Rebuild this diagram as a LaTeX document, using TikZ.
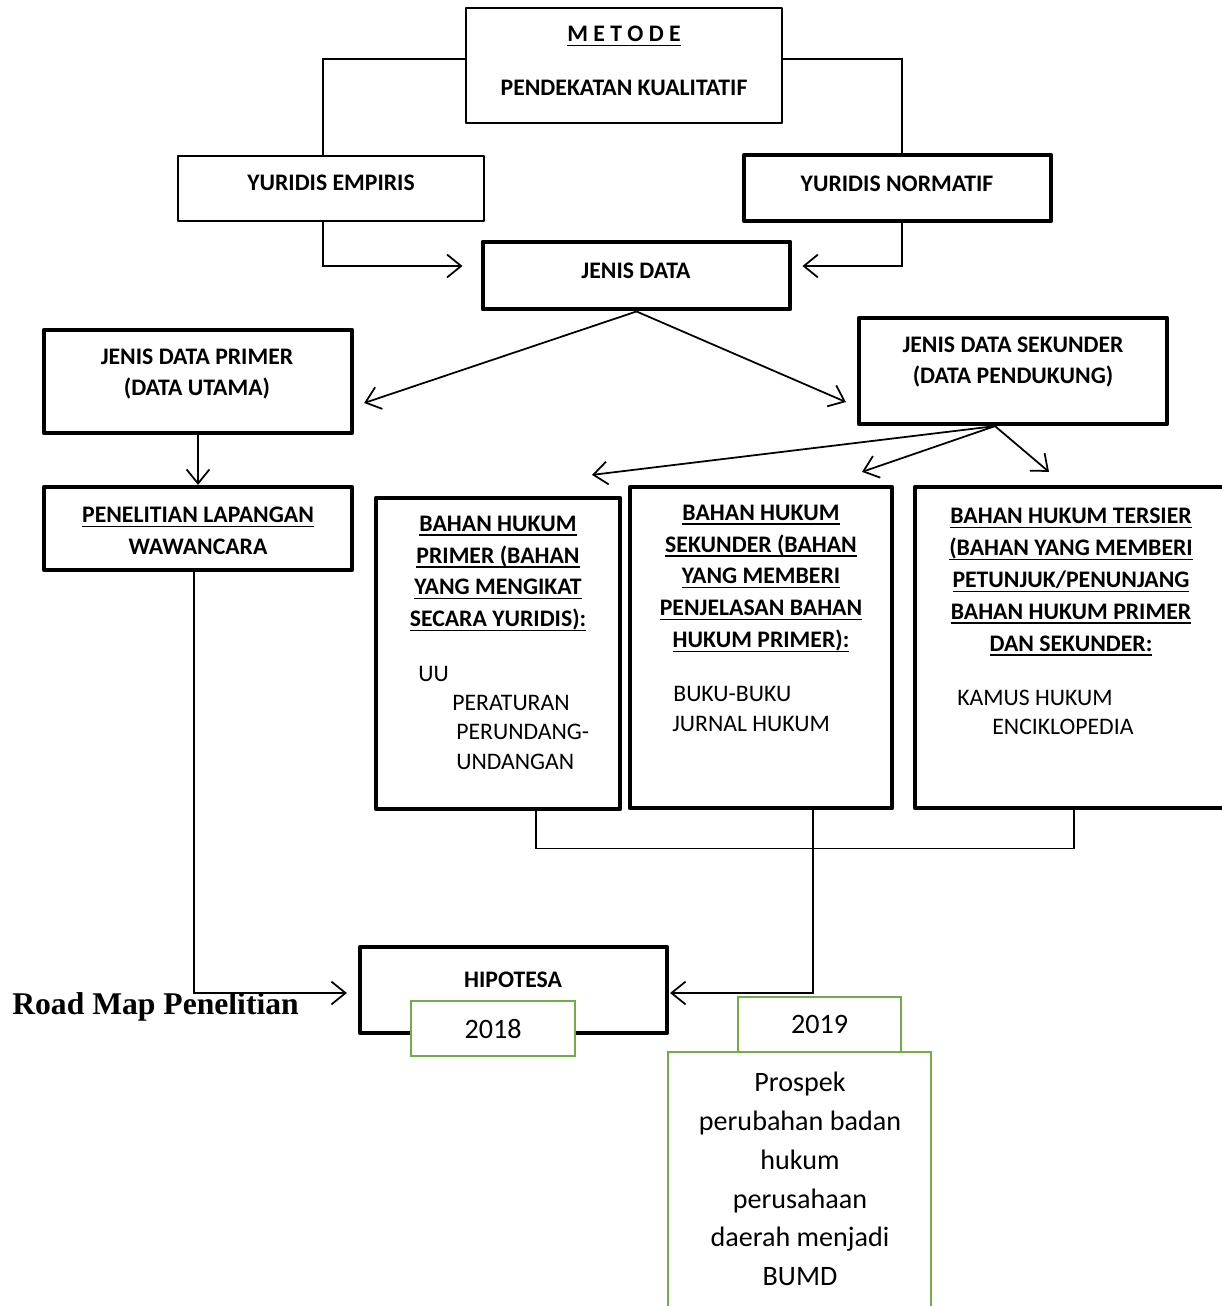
\documentclass[tikz,border=0pt]{standalone}
\usepackage{fontspec}
\setmainfont{Carlito}
\newfontfamily\roadfont{Liberation Serif}
\usetikzlibrary{arrows.meta,calc}
\definecolor{boxgreen}{RGB}{112,173,71}
\newlength{\pxu}
\setlength{\pxu}{0.02cm}
\newcommand{\ulin}[1]{\setbox0=\hbox{#1}\rlap{\rule[-2.6pt]{\wd0}{0.8pt}}\box0}

\begin{document}
\begin{tikzpicture}[x=0.02cm, y=-0.02cm,
	thinbox/.style={draw, line width=1.1pt, line join=round, inner sep=0pt},
	thickbox/.style={draw, line width=2.4pt, line join=round, inner sep=0pt},
	greenbox/.style={draw=boxgreen, line width=1.2pt, fill=white, inner sep=0pt, font=\fontsize{16}{22}\selectfont},
	head/.style={font=\bfseries\fontsize{13.5}{18.1}\selectfont, align=center, inner sep=0pt},
	body/.style={font=\fontsize{13.5}{16.7}\selectfont, anchor=west, inner sep=0pt},
	link/.style={line width=0.6pt},
	arrow/.style={line width=1pt, -{Straight Barb[length=8pt, width=13pt]}}]
				\useasboundingbox (0,0) rectangle (1222,1306);
				\clip (0,0) rectangle (1222,1306);
				\node[thinbox, minimum width=316\pxu, minimum height=115\pxu] (metode) at (624,65.5) {};
				\node[head] (metodeT) at (624,36) {\ulin{M E T O D E}};
				\node[head] (pendT) at (624,88) {PENDEKATAN KUALITATIF};
				\node[thinbox, minimum width=306\pxu, minimum height=65\pxu] (ye) at (331,188.5) {};
				\node[head] (yeT) at (331,183) {YURIDIS EMPIRIS};
				\node[thickbox, minimum width=307\pxu, minimum height=66\pxu] (yn) at (897.5,188) {};
				\node[head] (ynT) at (897,184) {YURIDIS NORMATIF};
				\node[thickbox, line width=2.8pt, minimum width=307\pxu, minimum height=67\pxu] (jd) at (636.5,275.5) {};
				\node[head] (jdT) at (636,271) {JENIS DATA};
				\node[thickbox, minimum width=308\pxu, minimum height=103\pxu] (jdp) at (198,381.5) {};
				\node[head] (jdpT) at (197,374) {JENIS DATA PRIMER\\(DATA UTAMA)};
				\node[thickbox, minimum width=308\pxu, minimum height=106\pxu] (jds) at (1013,371) {};
				\node[head] (jdsT) at (1013,362) {JENIS DATA SEKUNDER\\(DATA PENDUKUNG)};
				\node[thickbox, minimum width=308\pxu, minimum height=83\pxu] (pl) at (198,528.5) {};
				\node[head] (plT) at (198,531) {\ulin{PENELITIAN LAPANGAN}\\WAWANCARA};
				% bahan hukum
				\node[thickbox, minimum width=244\pxu, minimum height=311\pxu] (bhp) at (498,653.5) {};
				\node[head] (bhpT) at (498,573.5) {\ulin{BAHAN HUKUM}\\\ulin{PRIMER (BAHAN}\\\ulin{YANG MENGIKAT}\\\ulin{SECARA YURIDIS):}};
				\node[body] (uu) at (418,674) {UU};
				\node[body] (per1) at (452,703) {PERATURAN};
				\node[body] (per2) at (456,732) {PERUNDANG-};
				\node[body] (per3) at (456,762) {UNDANGAN};
				\node[thickbox, minimum width=262\pxu, minimum height=321\pxu] (bhs) at (761,647.5) {};
				\node[head] (bhsT) at (761,578.5) {\ulin{BAHAN HUKUM}\\\ulin{SEKUNDER (BAHAN}\\\ulin{YANG MEMBERI}\\\ulin{PENJELASAN BAHAN}\\\ulin{HUKUM PRIMER):}};
				\node[body] (buku) at (673,694) {BUKU-BUKU};
				\node[body] (jurnal) at (672,724) {JURNAL HUKUM};
				\node[thickbox, minimum width=317\pxu, minimum height=321\pxu] (bht) at (1073.5,647.5) {};
				\node[head] (bhtT) at (1071,582) {\ulin{BAHAN HUKUM TERSIER}\\\ulin{(BAHAN YANG MEMBERI}\\\ulin{PETUNJUK/PENUNJANG}\\\ulin{BAHAN HUKUM PRIMER}\\\ulin{DAN SEKUNDER:}};
				\node[body] (kamus) at (957,698) {KAMUS HUKUM};
				\node[body] (ensi) at (992,727) {ENCIKLOPEDIA};
				% hipotesa and road map
				\node[thickbox, minimum width=307\pxu, minimum height=86\pxu] (hipo) at (513.5,990) {};
				\node[head] (hipoT) at (513,980) {HIPOTESA};
				\node[greenbox, minimum width=164\pxu, minimum height=55\pxu] (y18) at (493,1028.5) {2018};
				\node[greenbox, minimum width=263\pxu, minimum height=268\pxu] (prospek) at (799.5,1186) {};
				\node[greenbox, minimum width=163\pxu, minimum height=55\pxu] (y19) at (819.5,1024.5) {2019};
				\node[align=center, inner sep=0pt, font=\fontsize{16}{22.1}\selectfont] (prospekT) at (800,1179) {Prospek\\perubahan badan\\hukum\\perusahaan\\daerah menjadi\\BUMD};
				\node[anchor=base west, inner sep=0pt, font=\roadfont\bfseries\fontsize{18}{22}\selectfont] (road) at (12,1014) {Road Map Penelitian};
				% connectors
				\draw[link] ($(metode.west)+(0,-6.5)$) -| ($(ye.north)+(-8,0)$);
				\draw[link] ($(metode.east)+(0,-6.5)$) -| ($(yn.north)+(4.5,0)$);
				\draw[arrow] ($(ye.south)+(-8,0)$) |- ($(jd.west)+(-18,-9.5)$);
				\draw[arrow] ($(yn.south)+(4.5,0)$) |- ($(jd.east)+(10,-9.5)$);
				\draw[arrow] (jd.south) -- ($(jdp.east)+(10,21.5)$);
				\draw[arrow] (jd.south) -- ($(jds.west)+(-11,31)$);
				\draw[arrow] (jdp.south) -- (pl.north);
				\coordinate (jdsfoot) at ($(jds.south)+(-18,0)$);
				\draw[arrow] (jdsfoot) -- ($(bhp.north)+(94,-21)$);
				\draw[arrow] (jdsfoot) -- ($(bhs.north)+(101,-13)$);
				\draw[arrow] (jdsfoot) -- ($(bht.north)+(-24.5,-13)$);
				\coordinate (joint) at ($(bhs.south)+(52,38)$);
				\draw[link] ($(bhp.south)+(38,0)$) |- (joint) -| ($(bht.south)+(0.5,0)$);
				\draw[arrow] ($(bhs.south)+(52,0)$) |- ($(hipo.east)+(1,3)$);
				\draw[arrow] ($(pl.south)+(-4,0)$) |- ($(hipo.west)+(-11,3)$);
\end{tikzpicture}
\end{document}
